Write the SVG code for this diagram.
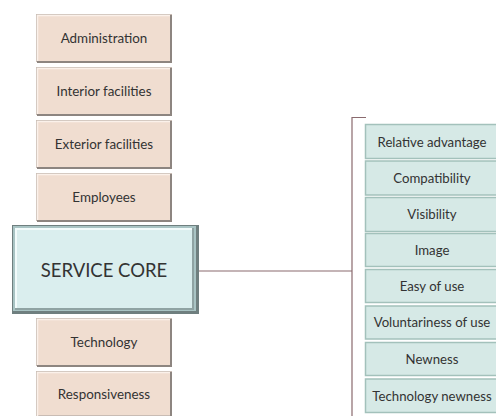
<svg xmlns="http://www.w3.org/2000/svg" width="496" height="416" viewBox="0 0 496 416">
  <style>
    .lbl { font-family: Lato, "Open Sans", "Liberation Sans", sans-serif; fill: #333333; text-anchor: middle; dominant-baseline: central; }
    .sm { font-size: 13.4px; }
    .rt { font-size: 13.2px; }
    .big { font-size: 18.5px; }
    .beige { fill: #f0ddd0; }
    .beige-lt { stroke: #fbf1ea; stroke-width: 1.5; fill: none; }
    .beige-dk { stroke: #8d8580; stroke-width: 2; fill: none; }
    .beige-ol { stroke: #c9bcb4; stroke-width: 1; fill: none; }
    .teal { fill: #d6e9e6; stroke: #a3c1bb; stroke-width: 1.5; }
    .core { fill: #daeeee; }
    .conn { stroke: #8a6a6e; stroke-width: 1.2; fill: none; }
  </style>
  <rect width="496" height="416" fill="#ffffff"/>

  <!-- left column factors -->
  <g id="administration">
    <rect class="beige" x="36" y="14" width="136" height="48"/>
    <rect class="beige-ol" x="36.5" y="14.5" width="135" height="47"/>
    <path class="beige-lt" d="M37.5 61 V15.5 H170"/>
    <path class="beige-dk" d="M171 15 V62 H37"/>
    <text class="lbl sm" x="104" y="38">Administration</text>
  </g>
  <g id="interior">
    <rect class="beige" x="36" y="67" width="136" height="48"/>
    <rect class="beige-ol" x="36.5" y="67.5" width="135" height="47"/>
    <path class="beige-lt" d="M37.5 114 V68.5 H170"/>
    <path class="beige-dk" d="M171 68 V115 H37"/>
    <text class="lbl sm" x="104" y="91">Interior facilities</text>
  </g>
  <g id="exterior">
    <rect class="beige" x="36" y="120" width="136" height="48"/>
    <rect class="beige-ol" x="36.5" y="120.5" width="135" height="47"/>
    <path class="beige-lt" d="M37.5 167 V121.5 H170"/>
    <path class="beige-dk" d="M171 121 V168 H37"/>
    <text class="lbl sm" x="104" y="144">Exterior facilities</text>
  </g>
  <g id="employees">
    <rect class="beige" x="36" y="173" width="136" height="48"/>
    <rect class="beige-ol" x="36.5" y="173.5" width="135" height="47"/>
    <path class="beige-lt" d="M37.5 220 V174.5 H170"/>
    <path class="beige-dk" d="M171 174 V221 H37"/>
    <text class="lbl sm" x="104" y="197">Employees</text>
  </g>

  <!-- central node with bevelled frame -->
  <g id="service-core">
    <rect x="12" y="225" width="187" height="89" fill="#6f7f7f"/>
    <rect x="13" y="226" width="183" height="85" fill="#a9c4c4"/>
    <rect x="15" y="228" width="179" height="81" fill="#f2fbfb"/>
    <rect class="core" x="17" y="230" width="176" height="78"/>
    <path d="M193 228 V309 H15" stroke="#8fa3a3" stroke-width="2" fill="none"/>
    <text class="lbl big" x="104" y="270">SERVICE CORE</text>
  </g>

  <g id="technology">
    <rect class="beige" x="36" y="318" width="136" height="48"/>
    <rect class="beige-ol" x="36.5" y="318.5" width="135" height="47"/>
    <path class="beige-lt" d="M37.5 365 V319.5 H170"/>
    <path class="beige-dk" d="M171 319 V366 H37"/>
    <text class="lbl sm" x="104" y="342">Technology</text>
  </g>
  <g id="responsiveness">
    <rect class="beige" x="36" y="371" width="136" height="45"/>
    <rect class="beige-ol" x="36.5" y="371.5" width="135" height="44"/>
    <path class="beige-lt" d="M37.5 416 V372.5 H170"/>
    <path class="beige-dk" d="M171 372 V416"/>
    <text class="lbl sm" x="104" y="394">Responsiveness</text>
  </g>

  <!-- connectors -->
  <g id="connectors">
    <path class="conn" d="M199 271 H352"/>
    <path class="conn" d="M352 416 V117.5 H366"/>
  </g>

  <!-- right column attributes -->
  <g id="relative-advantage">
    <rect class="teal" x="365.5" y="124.5" width="134" height="34"/>
    <text class="lbl rt" x="432" y="142">Relative advantage</text>
  </g>
  <g id="compatibility">
    <rect class="teal" x="365.5" y="161" width="134" height="34"/>
    <text class="lbl rt" x="432" y="178">Compatibility</text>
  </g>
  <g id="visibility">
    <rect class="teal" x="365.5" y="197.5" width="134" height="34"/>
    <text class="lbl rt" x="432" y="214">Visibility</text>
  </g>
  <g id="image">
    <rect class="teal" x="365.5" y="233.5" width="134" height="33"/>
    <text class="lbl rt" x="432" y="250">Image</text>
  </g>
  <g id="easy-of-use">
    <rect class="teal" x="365.5" y="269.5" width="134" height="33"/>
    <text class="lbl rt" x="432" y="286">Easy of use</text>
  </g>
  <g id="voluntariness">
    <rect class="teal" x="365.5" y="306" width="134" height="33"/>
    <text class="lbl rt" x="432" y="322">Voluntariness of use</text>
  </g>
  <g id="newness">
    <rect class="teal" x="365.5" y="342.5" width="134" height="33"/>
    <text class="lbl rt" x="432" y="359">Newness</text>
  </g>
  <g id="technology-newness">
    <rect class="teal" x="365.5" y="379" width="134" height="33.5"/>
    <text class="lbl rt" x="432" y="396">Technology newness</text>
  </g>
</svg>
